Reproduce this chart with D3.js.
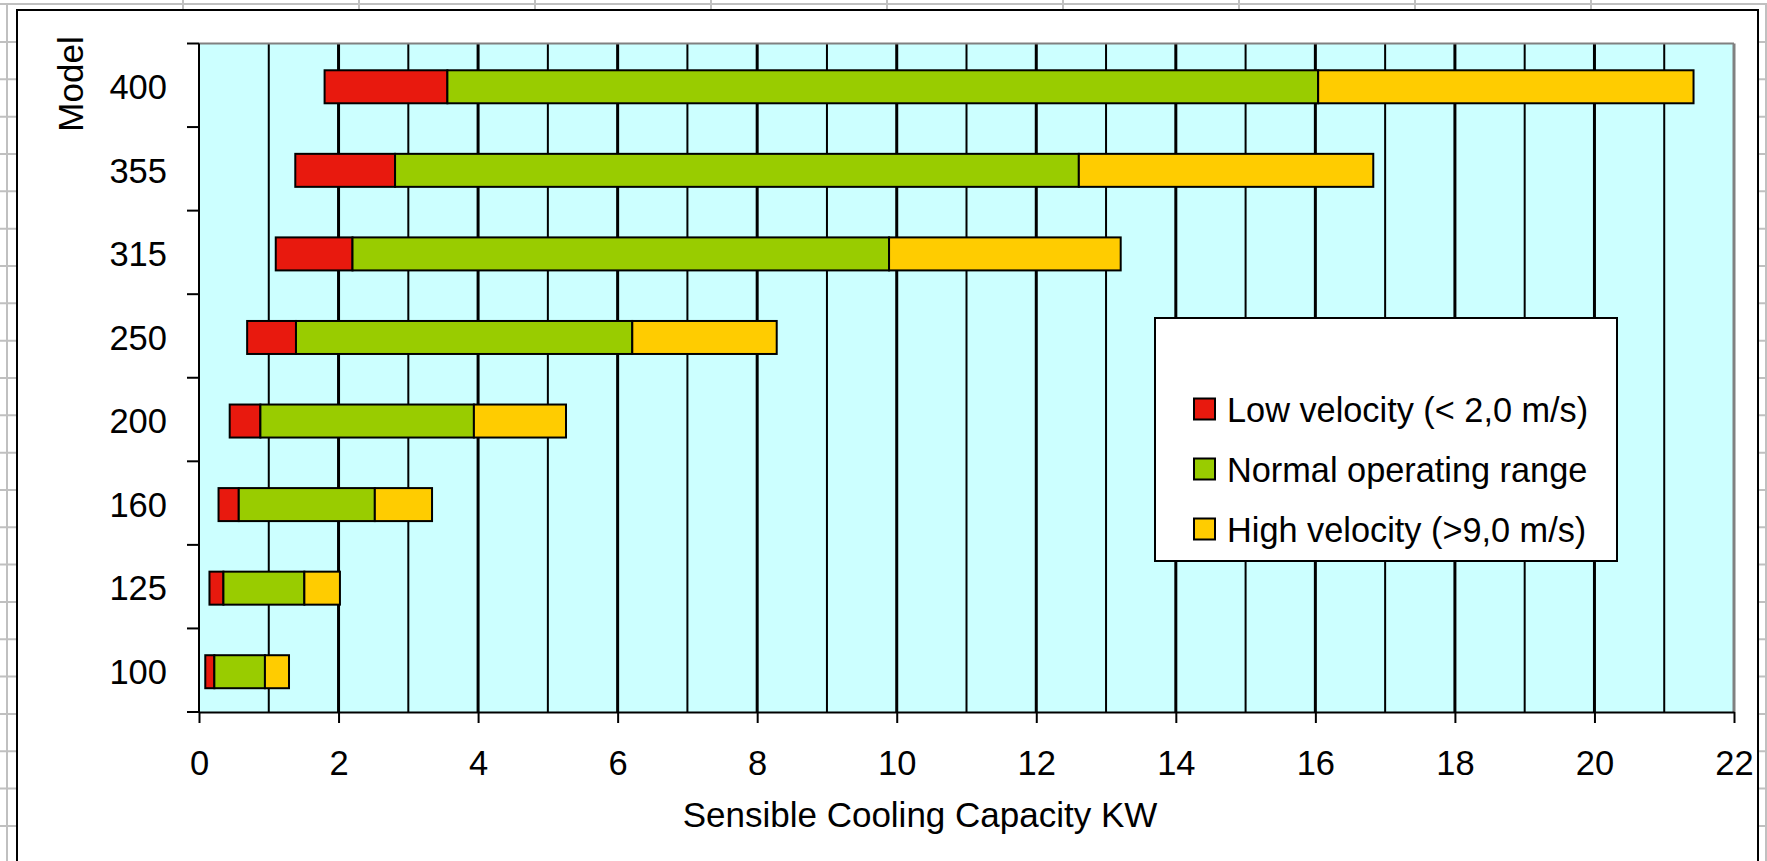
<!DOCTYPE html>
<html><head><meta charset="utf-8">
<script src="https://cdn.jsdelivr.net/npm/d3@7"></script>
<style>
body{margin:0;background:#fff;overflow:hidden}
text{font-family:"Liberation Sans",Arial,sans-serif;fill:#000}
</style>
</head><body>
<svg id="c" width="1767" height="861"></svg>
<script>
// ---- data ----
const models = ["100","125","160","200","250","315","355","400"];
const minCapacity     = [0.09, 0.15, 0.28, 0.44, 0.69, 1.10, 1.38, 1.80];
const lowVelocityMax  = [0.22, 0.35, 0.57, 0.88, 1.39, 2.20, 2.81, 3.56];
const normalMax       = [0.945, 1.51, 2.52, 3.94, 6.21, 9.89, 12.61, 16.04];
const highVelocityMax = [1.29, 2.02, 3.34, 5.26, 8.28, 13.21, 16.83, 21.42];
const seriesNames = ["Low velocity (< 2,0 m/s)", "Normal operating range", "High velocity (>9,0 m/s)"];
const seriesColors = ["#E8190E", "#99CC00", "#FFCC00"];
const xTicks = [0,2,4,6,8,10,12,14,16,18,20,22];
const xTitle = "Sensible Cooling Capacity KW";
const yTitle = "Model";

// ---- layout ----
const W = 1767, H = 861;
const plot = {left:199, right:1734, top:43.5, bottom:712};
const svg = d3.select("#c");

// spreadsheet cell grid behind the chart
const sheet = svg.append("g").attr("stroke","#C0C0C0").attr("stroke-width",2);
for (let yy = 42; yy < H; yy += 37.33) sheet.append("line").attr("x1",0).attr("x2",W).attr("y1",yy).attr("y2",yy);
sheet.append("line").attr("x1",0).attr("x2",W).attr("y1",4).attr("y2",4);
for (let xx = 183; xx < W; xx += 176) sheet.append("line").attr("x1",xx).attr("x2",xx).attr("y1",0).attr("y2",H);
sheet.append("line").attr("x1",7).attr("x2",7).attr("y1",4).attr("y2",H);
sheet.append("line").attr("x1",1766).attr("x2",1766).attr("y1",4).attr("y2",H);

// chart area
svg.append("rect").attr("x",17).attr("y",10).attr("width",1741).attr("height",H+20)
  .attr("fill","#fff").attr("stroke","#000").attr("stroke-width",2);

const x = d3.scaleLinear().domain([0,22]).range([plot.left, plot.right]);
const y = d3.scaleBand().domain(models.slice().reverse()).range([plot.top, plot.bottom])
  .paddingInner(0.605).paddingOuter(0.3025);

// plot background
svg.append("rect").attr("x",x(0)).attr("y",plot.top).attr("width",x(22)-x(0)).attr("height",plot.bottom-plot.top)
  .attr("fill","#CCFFFF");

// vertical gridlines
svg.append("g").selectAll("line").data(d3.range(1,22)).join("line")
  .attr("x1",d=>x(d)).attr("x2",d=>x(d)).attr("y1",plot.top).attr("y2",plot.bottom)
  .attr("stroke","#000").attr("stroke-width",d=>d%2===0?3:2);

// bars
const rows = models.map((m,i)=>({m, segs:[
  [minCapacity[i], lowVelocityMax[i]],
  [lowVelocityMax[i], normalMax[i]],
  [normalMax[i], highVelocityMax[i]]
]}));
const bars = svg.append("g").attr("transform","translate(0,1.5)");
rows.forEach(r=>{
  bars.selectAll(null).data(r.segs).join("rect")
    .attr("x",d=>x(d[0])).attr("width",d=>x(d[1])-x(d[0]))
    .attr("y",y(r.m)).attr("height",y.bandwidth())
    .attr("fill",(d,j)=>seriesColors[j]).attr("stroke","#000").attr("stroke-width",2);
});

// plot borders (top/right grey)
svg.append("line").attr("x1",x(0)).attr("x2",x(22)).attr("y1",plot.top).attr("y2",plot.top).attr("stroke","#808080").attr("stroke-width",2);
svg.append("line").attr("x1",x(22)).attr("x2",x(22)).attr("y1",plot.top).attr("y2",plot.bottom).attr("stroke","#808080").attr("stroke-width",3);

// x axis
const xAxis = svg.append("g").attr("transform",`translate(0,${plot.bottom})`)
  .call(d3.axisBottom(x).tickValues(xTicks).tickSize(11).tickSizeOuter(0).tickPadding(27.5).tickFormat(d3.format("d")));
xAxis.select(".domain").attr("stroke","#000").attr("stroke-width",2);
xAxis.selectAll(".tick line").attr("stroke","#000").attr("stroke-width",2);
xAxis.selectAll(".tick text").attr("font-size",34.5).attr("font-family","Liberation Sans, Arial, sans-serif").attr("fill","#000");

// y axis
const yAxis = svg.append("g").attr("transform",`translate(${plot.left},0)`)
  .call(d3.axisLeft(y).tickSize(0).tickPadding(32));
yAxis.select(".domain").remove();
yAxis.selectAll(".tick text").attr("font-size",34.5).attr("dy","0.4em").attr("font-family","Liberation Sans, Arial, sans-serif").attr("fill","#000");
svg.append("line").attr("x1",plot.left).attr("x2",plot.left).attr("y1",plot.top).attr("y2",plot.bottom+1).attr("stroke","#000").attr("stroke-width",2);
const pad = (y.step()-y.bandwidth())/2;
const bounds = models.map(m=>y(m)-pad).concat([plot.bottom]);
svg.append("g").selectAll("line").data(bounds).join("line")
  .attr("x1",plot.left-12).attr("x2",plot.left).attr("y1",d=>d).attr("y2",d=>d)
  .attr("stroke","#000").attr("stroke-width",2);

// titles
svg.append("text").attr("x",920).attr("y",827).attr("text-anchor","middle").attr("font-size",35).text(xTitle);
svg.append("text").attr("transform","translate(83,84) rotate(-90)").attr("text-anchor","middle").attr("font-size",35).text(yTitle);

// legend
const lg = svg.append("g");
lg.append("rect").attr("x",1155).attr("y",318).attr("width",462).attr("height",243)
  .attr("fill","#fff").attr("stroke","#000").attr("stroke-width",2);
seriesNames.forEach((name,i)=>{
  const cy = 409 + i*60;
  lg.append("rect").attr("x",1194).attr("y",cy-10.5).attr("width",21).attr("height",21)
    .attr("fill",seriesColors[i]).attr("stroke","#000").attr("stroke-width",2);
  lg.append("text").attr("x",1227).attr("y",cy+12.5).attr("font-size",34.3).text(name);
});
</script>
</body></html>
